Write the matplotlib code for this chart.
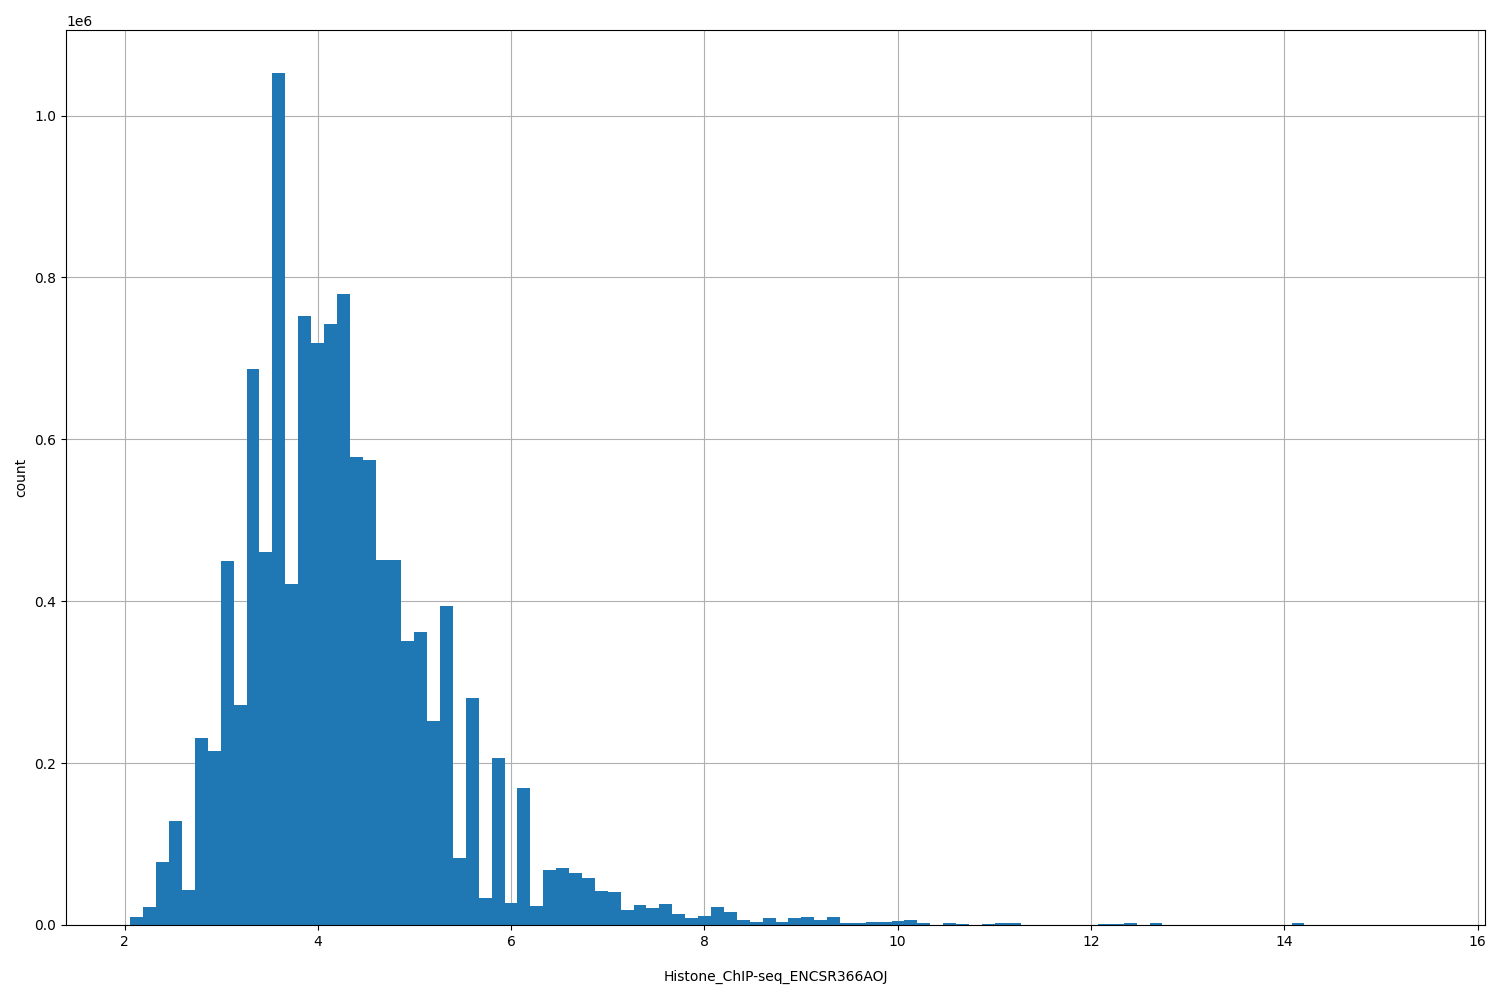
import matplotlib
matplotlib.use("Agg")
import matplotlib.pyplot as plt
import numpy as np

x_min = 2.06
bin_width = 0.1335
counts = [10000, 22000, 78000, 128000, 43000, 231000, 215000, 450000, 272000, 687000,
          461000, 1053000, 421000, 752000, 719000, 742000, 780000, 578000, 575000, 451000,
          451000, 351000, 362000, 252000, 394000, 83000, 280000, 33000, 206000, 27000,
          169000, 23000, 68000, 70000, 64000, 58000, 42000, 41000, 18000, 25000,
          21000, 26000, 13000, 9000, 11000, 22000, 16000, 6000, 4000, 9000,
          4000, 9000, 10000, 6000, 10000, 3000, 3000, 4000, 4000, 5000,
          6000, 2000, 0, 2000, 1000, 0, 1000, 2000, 3000, 0,
          0, 0, 0, 0, 0, 1000, 1000, 2000, 0, 2000,
          0, 0, 0, 0, 0, 0, 0, 0, 0, 0,
          3000, 0, 0, 0, 0, 0, 0, 0, 0, 0]

edges = x_min + bin_width * np.arange(len(counts) + 1)

fig, ax = plt.subplots(figsize=(15, 10), dpi=100)
ax.hist(edges[:-1], bins=edges, weights=counts, color="#1f77b4")
ax.grid(True)
ax.set_axisbelow(True)
ax.set_xlabel("Histone_ChIP-seq_ENCSR366AOJ", labelpad=15)
ax.set_ylabel("count")
ax.set_xticks([2, 4, 6, 8, 10, 12, 14, 16])
plt.subplots_adjust(left=0.044, right=0.99, top=0.97, bottom=0.075)
fig.savefig("out.png")
